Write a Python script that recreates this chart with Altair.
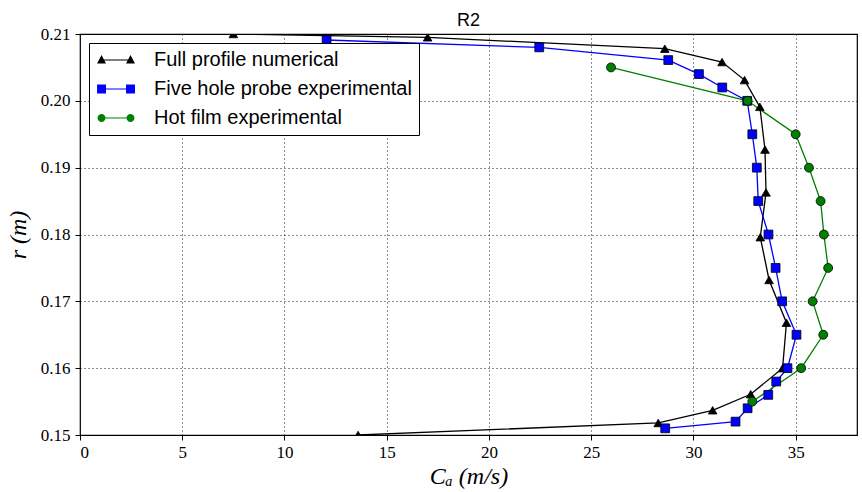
import altair as alt
import pandas as pd

# ---- data ----
num_ca = [7.5, 17.0, 28.6, 31.4, 32.5, 33.25, 33.5, 33.55, 33.27, 33.7, 34.55, 34.36, 32.8, 30.94, 28.28, 13.6]
num_r = [0.2100, 0.2095, 0.2078, 0.2058, 0.2031, 0.1991, 0.1927, 0.1863, 0.1796, 0.1732, 0.1668, 0.1600, 0.1561, 0.1537, 0.1518, 0.1500]

fhp_ca = [12.06, 22.46, 28.77, 30.27, 31.41, 32.63, 32.88, 33.1, 33.17, 33.67, 34.02, 34.34, 35.04, 34.6, 34.05, 33.66, 32.65, 32.06, 28.62]
fhp_r = [0.2091, 0.2080, 0.2061, 0.2040, 0.2020, 0.2000, 0.1950, 0.1900, 0.1850, 0.1800, 0.1750, 0.1700, 0.1650, 0.1600, 0.1580, 0.1560, 0.1540, 0.1520, 0.1510]

hf_ca = [25.97, 32.65, 35.0, 35.65, 36.22, 36.38, 36.59, 35.83, 36.35, 35.27, 32.88]
hf_r = [0.205, 0.200, 0.195, 0.190, 0.185, 0.180, 0.175, 0.170, 0.165, 0.160, 0.155]

series_names = ["Full profile numerical", "Five hole probe experimental", "Hot film experimental"]
series_colors = ["#000000", "#0000ff", "#008000"]
x_ticks = [0, 5, 10, 15, 20, 25, 30, 35]
y_ticks = [0.15, 0.16, 0.17, 0.18, 0.19, 0.20, 0.21]

rows = []
for name, cas, rs in zip(series_names, [num_ca, fhp_ca, hf_ca], [num_r, fhp_r, hf_r]):
    for i, (c, r) in enumerate(zip(cas, rs)):
        rows.append({"series": name, "ca": c, "r": r, "idx": i})
df = pd.DataFrame(rows)

SERIF = "Liberation Serif"

x_enc = alt.X("ca:Q", scale=alt.Scale(domain=[0, 38], nice=False, zero=False),
              axis=alt.Axis(values=x_ticks, title="Cₐ (m/s)", format="d",
                            labelFont=SERIF, labelFontSize=17))
y_enc = alt.Y("r:Q", scale=alt.Scale(domain=[0.15, 0.21], nice=False, zero=False),
              axis=alt.Axis(values=y_ticks, title="r (m)", format=".2f",
                            labelFont=SERIF, labelFontSize=17))

color_scale = alt.Scale(domain=series_names, range=series_colors)

base = alt.Chart(df)

lines = base.mark_line(strokeWidth=1.3, clip=True).encode(
    x=x_enc, y=y_enc,
    color=alt.Color("series:N", scale=color_scale, legend=None),
    order="idx:Q",
)

points = base.mark_point(filled=True, clip=True, stroke="black", strokeWidth=0.8, opacity=1).encode(
    x=x_enc, y=y_enc,
    color=alt.Color("series:N", scale=color_scale, legend=None),
    shape=alt.Shape("series:N", scale=alt.Scale(domain=series_names,
                                                 range=["triangle-up", "square", "circle"]), legend=None),
    size=alt.Size("series:N", scale=alt.Scale(domain=series_names, range=[75, 80, 50]), legend=None),
)

# legend glyphs: line with a marker at each end (units of 9.5 px)
L, R = -0.47, 2.58
h = 0.47
bar = f"M{L},0.065 L{R},0.065 L{R},-0.065 L{L},-0.065 Z"


def tri(x):
    return f"M{x},{-h * 1.1:.3f} L{x - h:.3f},{h * 0.8:.3f} L{x + h:.3f},{h * 0.8:.3f} Z"


def sq(x):
    return f"M{x - h:.3f},{-h:.3f} L{x - h:.3f},{h:.3f} L{x + h:.3f},{h:.3f} L{x + h:.3f},{-h:.3f} Z"


def circ(x):
    rr = 0.42
    return f"M{x - rr:.3f},0 A{rr},{rr} 0 1,0 {x + rr:.3f},0 A{rr},{rr} 0 1,0 {x - rr:.3f},0 Z"


leg_paths = [
    " ".join([bar, tri(L), tri(R)]),
    " ".join([bar, sq(L), sq(R)]),
    " ".join([bar, circ(L), circ(R)]),
]

legend_layer = base.transform_filter("datum.idx < 0").mark_point(filled=True, opacity=1).encode(
    x=x_enc, y=y_enc,
    color=alt.Color("series:N", scale=alt.Scale(domain=series_names, range=series_colors),
                    legend=alt.Legend(
                        title=None, orient="none", legendX=9, legendY=9,
                        strokeColor="black", fillColor="white", padding=7,
                        symbolSize=361, symbolOpacity=1, symbolStrokeWidth=0,
                        labelFont="Liberation Sans", labelFontSize=20, labelColor="black",
                        labelOffset=38, rowPadding=9, labelLimit=500,
                    )),
    shape=alt.Shape("series:N", scale=alt.Scale(domain=series_names, range=leg_paths)),
)

chart = alt.layer(lines, points, legend_layer).resolve_scale(
    color="independent", shape="independent", size="independent"
).properties(
    width=777, height=401,
    title=alt.TitleParams("R2", dy=13, fontSize=18, font="Liberation Sans"),
    padding={"left": 80, "top": 34, "right": 5, "bottom": 57},
    autosize=alt.AutoSizeParams(type="none"),
).configure_title(
    font="Liberation Sans", fontSize=18, fontWeight="normal", color="black",
    offset=8, frame="group", anchor="middle",
).configure_view(
    stroke="black", strokeWidth=1.2
).configure_axis(
    grid=True, gridColor="black", gridDash=[1, 3], gridOpacity=0.9, gridWidth=1,
    domain=False, tickColor="black", tickSize=5,
    labelFont=SERIF, labelFontSize=17, labelColor="black",
    titleFont=SERIF, titleFontSize=24, titleFontStyle="italic",
    titleFontWeight="normal", titleColor="black",
).configure_axisX(
    labelPadding=4, titlePadding=4,
).configure_axisY(
    labelPadding=5, titlePadding=10,
)

chart.save("out.html", embed_options={"renderer": "svg", "actions": False})
